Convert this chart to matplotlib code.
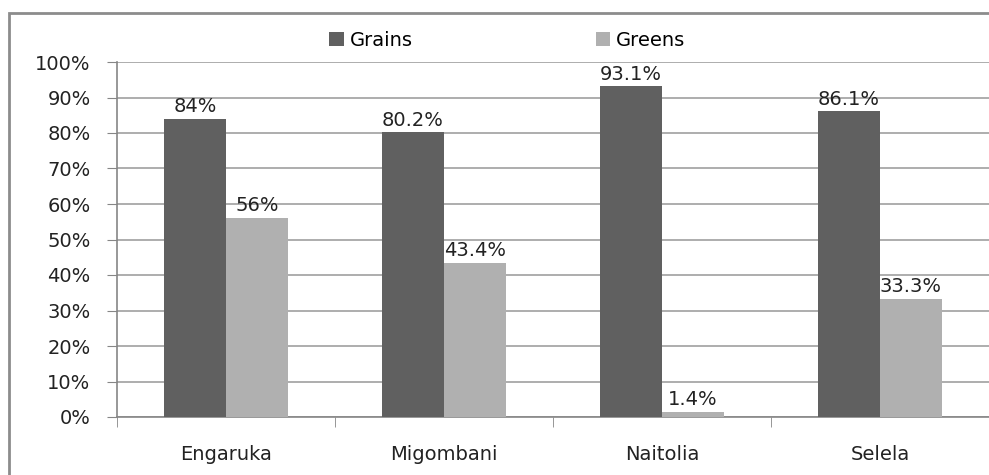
import matplotlib
matplotlib.use('Agg')
import matplotlib.pyplot as plt
import numpy as np
from matplotlib.patches import Rectangle

plt.rcParams['font.family'] = ['DejaVu Sans']

sites = ['Engaruka', 'Migombani', 'Naitolia', 'Selela']
grains = [84, 80.2, 93.1, 86.1]
greens = [56, 43.4, 1.4, 33.3]
grains_lbl = ['84%', '80.2%', '93.1%', '86.1%']
greens_lbl = ['56%', '43.4%', '1.4%', '33.3%']

fs = 14
fig = plt.figure(figsize=(9.89, 4.75), dpi=100)
ax = fig.add_axes([117/989, 58/475, 872/989, 355/475])

x = np.arange(len(sites))
w = 0.284
b1 = ax.bar(x - w/2, grains, w, color='#606060', label='Grains', zorder=3)
b2 = ax.bar(x + w/2, greens, w, color='#b0b0b0', label='Greens', zorder=3)

for bars, labs in [(b1, grains_lbl), (b2, greens_lbl)]:
    for r, t in zip(bars, labs):
        ax.annotate(t, (r.get_x() + r.get_width()/2, r.get_height()),
                    xytext=(0, 2), textcoords='offset points',
                    ha='center', va='bottom', fontsize=fs, color='#222222')

ax.set_xlim(-0.5, 3.5)
ax.set_ylim(0, 100)
ax.set_yticks(range(0, 101, 10))
ax.set_yticklabels([f'{v}%' for v in range(0, 101, 10)])
ax.set_xticks(x)
ax.set_xticklabels(sites)
ax.set_xticks(np.arange(-0.5, 3.6, 1), minor=True)
ax.tick_params(axis='x', which='major', length=0, pad=20, labelsize=fs, labelcolor='#222222')
ax.tick_params(axis='x', which='minor', length=7, color='#868686', direction='out')
ax.tick_params(axis='y', length=7, color='#868686', pad=12, labelsize=fs, labelcolor='#222222')

ax.grid(axis='y', color='#a0a0a0', linewidth=1.2, zorder=0)
for s in ['top', 'right']:
    ax.spines[s].set_visible(False)
for s in ['left', 'bottom']:
    ax.spines[s].set_color('#868686')
    ax.spines[s].set_linewidth(1.2)

fig.legend(loc='center', bbox_to_anchor=(0.513, 1 - 40/475), ncol=2, frameon=False,
           fontsize=fs, handlelength=0.75, handleheight=0.75, handletextpad=0.3,
           columnspacing=9.4)

fig.patches.append(Rectangle((9/989, -0.1), 1.2, 1.1 - 13/475, transform=fig.transFigure,
                             fill=False, edgecolor='#8c8c8c', linewidth=2))

fig.savefig('out.png', dpi=100)
